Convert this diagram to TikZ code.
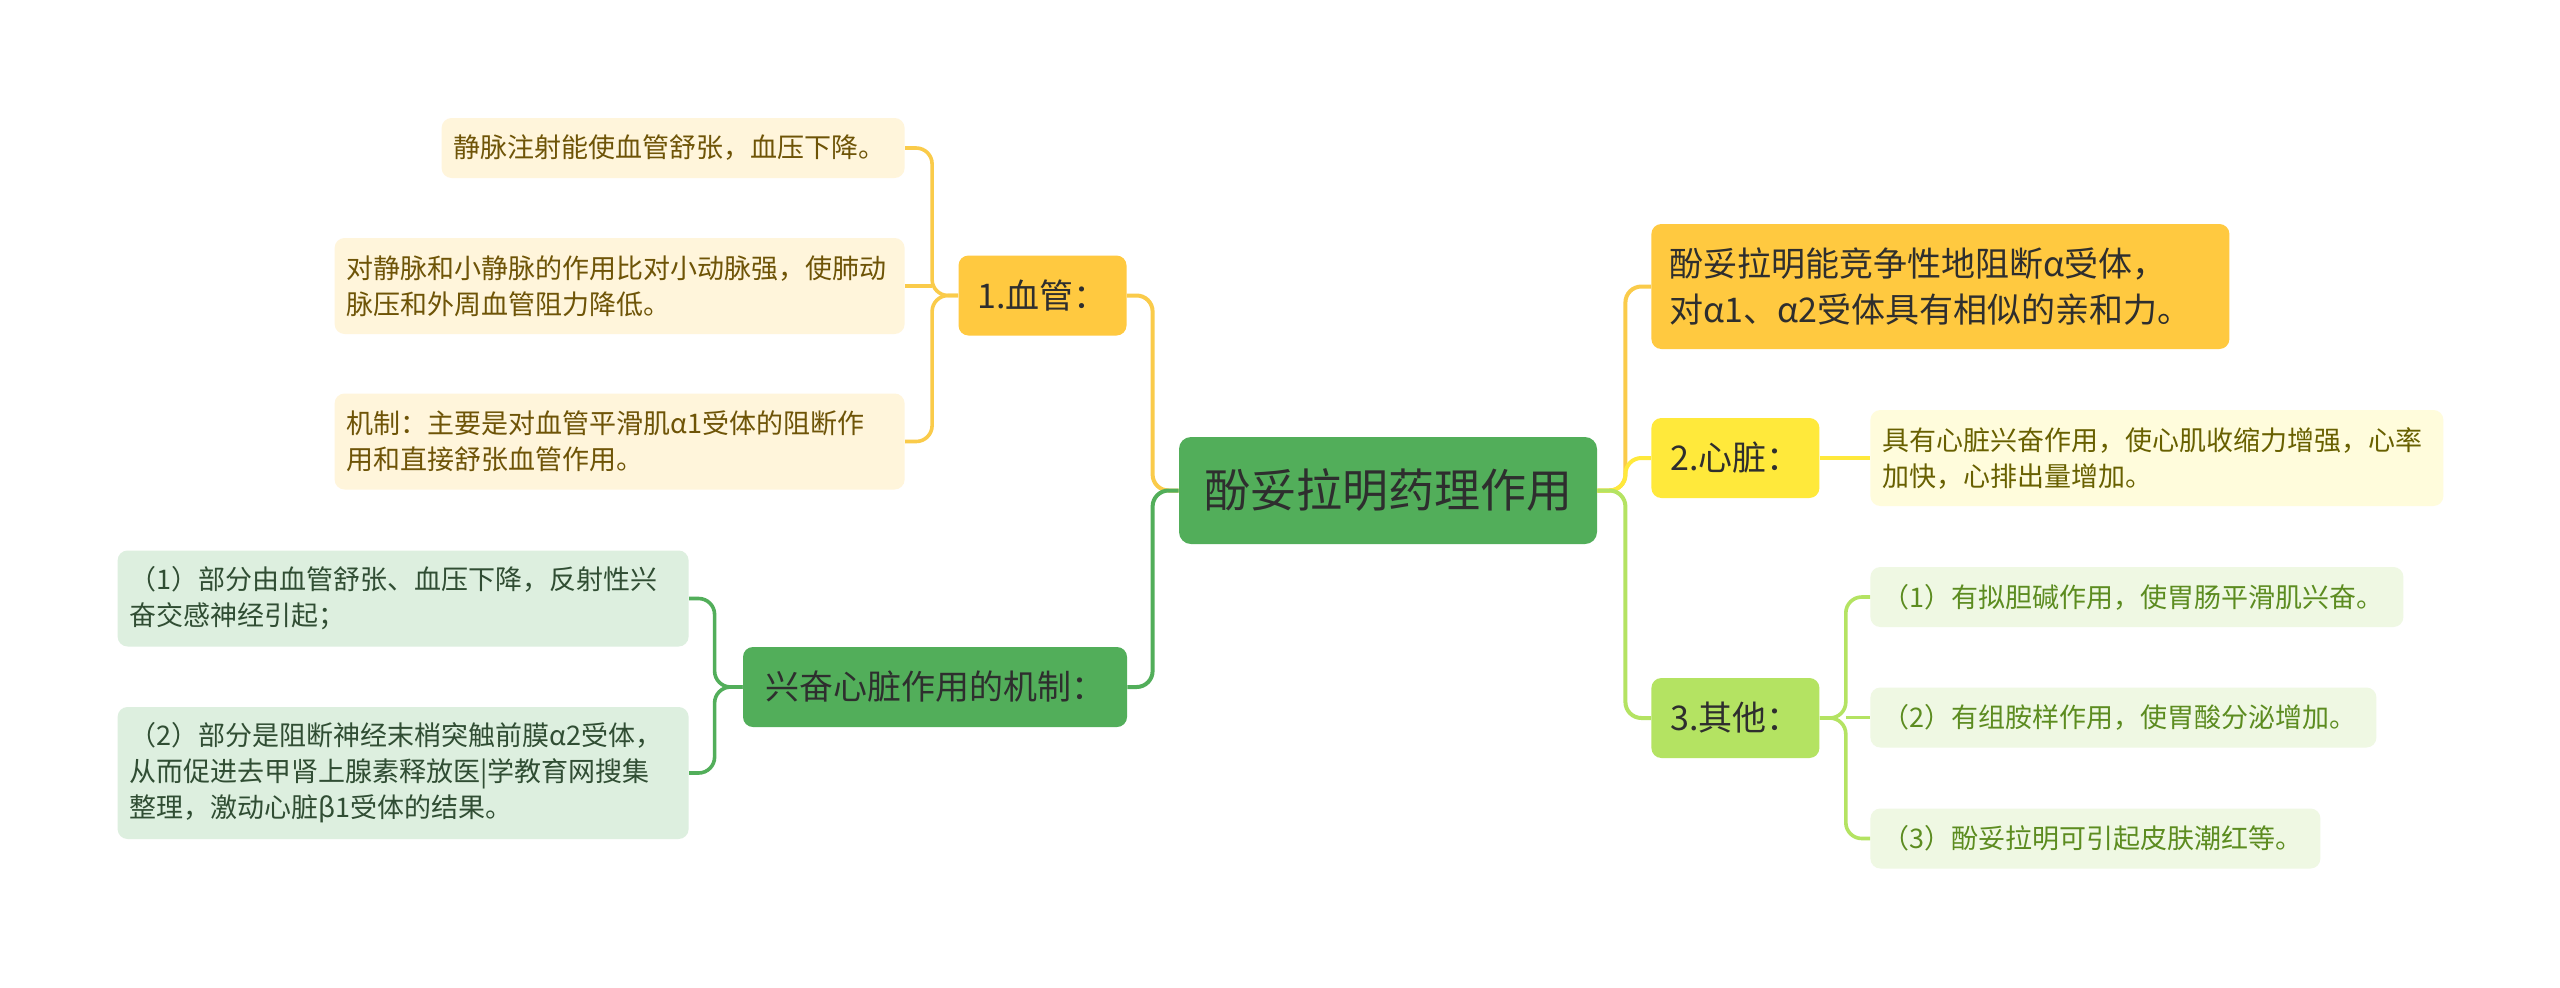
\documentclass[tikz,border=0pt]{standalone}
\usepackage{fontspec}
\setmainfont{Noto Sans CJK SC}
\definecolor{rootgreen}{HTML}{52AE5A}
\definecolor{amber}{HTML}{FFC940}
\definecolor{amberline}{HTML}{FACB4A}
\definecolor{lemon}{HTML}{FFE93B}
\definecolor{lime}{HTML}{B4E362}
\definecolor{textdark}{HTML}{2E2E2E}
\definecolor{creamfill}{HTML}{FFF5DB}
\definecolor{creamtext}{HTML}{6E5407}
\definecolor{mintfill}{HTML}{DDEFDF}
\definecolor{minttext}{HTML}{304D33}
\definecolor{paleyellow}{HTML}{FFFCDC}
\definecolor{olivetext}{HTML}{686000}
\definecolor{palelime}{HTML}{EFF8E3}
\definecolor{limetext}{HTML}{5C8C20}
\tikzset{
  rootbox/.style={
    rectangle,
    rounded corners=6pt,
    fill=rootgreen,
    text=textdark,
    font=\fontsize{23}{28}\selectfont,
    minimum width=209pt,
    minimum height=53.5pt
  },
  topicbox/.style={
    rectangle,
    rounded corners=5pt,
    text=textdark,
    inner xsep=9pt,
    font=\fontsize{17}{23}\selectfont,
    minimum width=84pt,
    minimum height=40pt
  },
  leafbox/.style={
    rectangle,
    rounded corners=5pt,
    align=left,
    inner xsep=6pt,
    font=\fontsize{13.5}{18}\selectfont
  },
  branch/.style={line width=2pt, rounded corners=8pt},
  twig/.style={line width=1.8pt, rounded corners=8pt}
}

\begin{document}
\begin{tikzpicture}[x=0.5pt, y=-0.5pt]
  \fill[white] (0,0) rectangle (2560,987);
  \useasboundingbox (0,0) rectangle (2560,987);

  \node[rootbox] (root) at (1388,490.5) {酚妥拉明药理作用};

  % left side
  \node[topicbox, fill=amber] (vessel) at (1042.5,295.5) {1.血管：};
  \node[topicbox, fill=rootgreen, minimum width=192pt] (mech) at (935,687) {兴奋心脏作用的机制：};

  \node[leafbox, fill=creamfill, text=creamtext, text width=219.5pt, minimum height=30pt, anchor=east] (vein) at (905,148) {静脉注射能使血管舒张，血压下降。};
  \node[leafbox, fill=creamfill, text=creamtext, text width=273pt, minimum height=48pt, anchor=east] (venule) at (905,286) {对静脉和小静脉的作用比对小动脉强，使肺动\\脉压和外周血管阻力降低。};
  \node[leafbox, fill=creamfill, text=creamtext, text width=273pt, minimum height=48pt, anchor=east] (block) at (905,441.5) {机制：主要是对血管平滑肌α1受体的阻断作\\用和直接舒张血管作用。};

  \node[leafbox, fill=mintfill, text=minttext, text width=273.5pt, minimum height=48pt, anchor=east] (reflex) at (689,598.5) {（1）部分由血管舒张、血压下降，反射性兴\\奋交感神经引起；};
  \node[leafbox, fill=mintfill, text=minttext, text width=273.5pt, minimum height=66pt, anchor=east] (presyn) at (689,773) {（2）部分是阻断神经末梢突触前膜α2受体，\\从而促进去甲肾上腺素释放医|学教育网搜集\\整理，激动心脏β1受体的结果。};

  % right side
  \node[topicbox, fill=amber, align=left, text width=271pt, font=\fontsize{17}{23}\selectfont, minimum height=62.5pt, anchor=west] (alpha) at (1651,286.5) {酚妥拉明能竞争性地阻断α受体，\\对α1、α2受体具有相似的亲和力。};
  \node[topicbox, fill=lemon, anchor=west] (heart) at (1651,458) {2.心脏：};
  \node[topicbox, fill=lime, anchor=west] (other) at (1651,718) {3.其他：};

  \node[leafbox, fill=paleyellow, text=olivetext, text width=274.5pt, minimum height=48pt, anchor=west] (cardiac) at (1870,458) {具有心脏兴奋作用，使心肌收缩力增强，心率\\加快，心排出量增加。};
  \node[leafbox, fill=palelime, text=limetext, text width=254.5pt, minimum height=30pt, anchor=west] (gut) at (1870,597) {（1）有拟胆碱作用，使胃肠平滑肌兴奋。};
  \node[leafbox, fill=palelime, text=limetext, text width=241pt, minimum height=30pt, anchor=west] (acid) at (1870,717.5) {（2）有组胺样作用，使胃酸分泌增加。};
  \node[leafbox, fill=palelime, text=limetext, text width=213pt, minimum height=30pt, anchor=west] (flush) at (1870,838.5) {（3）酚妥拉明可引起皮肤潮红等。};

  \draw[branch, amberline] (root.west) -- ++(-26,0) |- (vessel.east);
  \draw[branch, rootgreen] (root.west) -- ++(-26,0) |- (mech.east);
  \draw[branch, amberline] (root.east) -- ++(28,0) |- (alpha.west);
  \draw[branch, lemon] (root.east) -- ++(28,0) |- (heart.west);
  \draw[branch, lime] (root.east) -- ++(28,0) |- (other.west);

  \draw[twig, amberline] (vessel.west) -- ++(-26,0) coordinate (vspine) |- (vein.east);
  \draw[twig, amberline] (vessel.west) -- (vspine) |- (block.east);
  \draw[twig, amberline] (vspine |- venule.east) -- (venule.east);
  \foreach \leaf in {reflex, presyn}
    \draw[twig, rootgreen] (mech.west) -- ++(-28,0) |- (\leaf.east);
  \draw[twig, lemon] (heart.east) -- (cardiac.west);
  \draw[twig, lime] (other.east) -- ++(26,0) coordinate (ospine) |- (gut.west);
  \draw[twig, lime] (other.east) -- (ospine) |- (flush.west);
  \draw[twig, lime] (ospine |- acid.west) -- (acid.west);
\end{tikzpicture}
\end{document}
